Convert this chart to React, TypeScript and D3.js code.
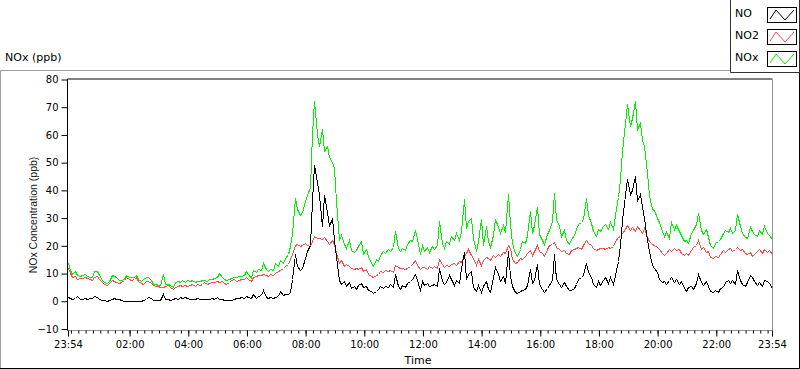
import React, { useEffect, useRef } from 'react';
import * as d3 from 'd3';

// 5-minute samples starting at 23:54, 289 points over 24 h
const startTime = '23:54';
const stepMinutes = 5;

const noValues = [
  1.4, 1.0, 0.8, 0.9, 1.6, 0.7, 0.8, 1.0, 0.6, 0.9, 1.1, 1.8, 1.2, 0.8, 0.3, 0.2, 0.1, 0.2, 0.6, 1.1,
  0.8, 0.5, 0.2, 0.1, 0.1, 0.1, 0.1, 0.1, 0.1, 0.1, 0.1, 0.2, 0.5, 1.4, 1.0, 0.4, 0.3, 0.2, 0.3, 2.4,
  0.5, 0.7, 0.4, 0.6, 1.0, 0.8, 1.2, 0.9, 1.3, 1.0,
  0.8, 0.7, 0.5, 0.9, 0.6, 0.7, 0.5, 0.8, 0.6, 0.9, 0.7, 1.2, 0.8, 0.5, 0.3, 0.4, 0.3, 0.2, 0.6, 1.0,
  1.1, 1.2, 1.0, 1.6, 1.3, 1.1, 2.6, 1.0, 1.6, 2.2, 4.0, 1.3, 1.1, 1.4, 1.0, 1.5, 1.8, 3.4, 2.0, 2.4,
  2.6, 3.0, 8.0, 17.0, 12.5, 11.0, 12.0, 15.5,
  18.0, 20.0, 36.0, 49.0, 43, 38, 27, 38, 32, 27, 30, 22, 16, 7.4, 6.2, 7.0, 5.4, 6.6, 4.6, 5.2,
  4.2, 5.6, 6.4, 4.8, 5.2, 4.0, 3.4, 2.8, 3.6, 4.2, 5.2, 4.6, 5.4, 5.0, 6.0, 4.8, 9.6, 5.2, 4.4, 5.8,
  4.8, 6.4, 7.2, 7.8, 9.8, 7.6, 3.8, 7.0,
  5.8, 6.4, 5.2, 5.6, 6.0, 5.4, 12.0, 7.2, 6.2, 6.8, 9.4, 8.0, 5.8, 7.4, 6.4, 11.8, 17.6, 7.8, 9.6, 10.6,
  5.0, 3.6, 5.6, 3.0, 5.2, 7.0, 4.4, 3.0, 8.4, 12.2, 9.6, 7.0, 8.8, 6.4, 18.0, 9.0, 5.4, 3.2, 2.8, 3.4,
  4.0, 4.4, 5.8, 11.4, 6.4, 7.6, 13.2, 6.0,
  4.4, 3.0, 4.6, 5.6, 7.4, 17.0, 7.8, 6.2, 5.0, 6.8, 5.2, 4.0, 3.8, 4.6, 6.0, 7.8, 8.4, 9.4, 13.6, 10.4,
  8.4, 6.0, 4.8, 7.0, 5.6, 7.6, 8.4, 6.4, 8.6, 6.0, 9.4, 14.2, 20.0, 29.0, 38.0, 44.0, 38.6, 40.0, 45.0, 36.0,
  38.4, 34.0, 30.0, 22.0, 18.0, 13.0, 12.0, 10.4, 8.0,
  6.6, 7.2, 6.0, 7.6, 8.4, 6.8, 7.8, 6.2, 7.0, 4.6, 3.6, 4.8, 5.2, 4.2, 6.4, 9.6, 6.8, 5.6, 7.0, 5.4,
  3.4, 3.0, 3.8, 3.2, 4.6, 5.0, 6.8, 7.6, 6.4, 7.4, 6.0, 11.2, 7.4, 6.2, 5.4, 6.8, 9.4, 8.6, 7.0, 5.8,
  6.6, 5.4, 7.6, 7.0, 6.4, 4.6,
];

const no2Values = [
  12, 10, 8.6, 8.8, 7.8, 8.2, 8.3, 8.6, 8.2, 7.8, 7.6, 8.4, 9.0, 8.0, 6.6, 6.0, 5.8, 6.4, 7.6, 7.2,
  6.6, 6.4, 6.8, 7.4, 8.4, 7.8, 7.6, 7.8, 8.4, 7.0, 6.4, 6.2, 7.0, 7.2, 6.4, 5.6, 5.4, 5.2, 5.0, 5.0,
  5.2, 5.6, 5.0, 4.4, 4.8, 5.4, 5.8, 5.2, 5.6, 5.2,
  5.6, 6.0, 5.4, 6.0, 5.8, 6.2, 6.6, 6.2, 6.4, 6.8, 6.6, 7.2, 6.8, 7.0, 6.4, 6.2, 6.8, 7.4, 7.8, 7.2,
  7.6, 8.0, 7.8, 8.4, 8.0, 7.0, 8.6, 9.0, 9.4, 9.2, 9.8, 9.2, 9.0, 9.8, 9.4, 10.2, 10.6, 11.2, 12.0, 12.6,
  13.4, 15.0, 17.0, 20.0, 20.4, 19.6, 20.2, 21.0,
  20.2, 19.8, 21.6, 23.4, 22.6, 22.8, 22.2, 23.0, 21.6, 20.4, 21.8, 20.4, 17.4, 13.8, 14.6, 12.4, 13.2, 12.6, 12.0, 11.6,
  12.0, 11.4, 12.2, 10.8, 11.6, 9.8, 9.0, 8.6, 9.2, 9.6, 10.8, 10.4, 11.0, 10.6, 11.0, 10.4, 12.8, 12.2, 11.8, 12.0,
  11.6, 11.8, 12.4, 13.4, 14.8, 13.0, 11.4, 12.2,
  12.2, 11.4, 12.6, 11.8, 12.4, 12.0, 15.0, 13.2, 12.2, 12.8, 12.6, 13.4, 13.8, 13.0, 14.4, 14.0, 16.0, 17.2, 18.6, 16.4,
  15.6, 13.0, 15.2, 12.8, 14.6, 15.8, 15.6, 14.8, 16.6, 15.8, 17.0, 16.2, 17.6, 17.4, 20.0, 19.2, 15.0, 13.6, 14.0, 15.6,
  15.0, 16.2, 17.2, 18.2, 16.6, 17.8, 20.0, 17.8,
  17.4, 16.0, 18.6, 20.2, 20.6, 21.2, 19.4, 18.6, 17.8, 18.4, 17.4, 17.0, 18.2, 18.8, 19.2, 19.4, 18.8, 20.2, 21.8, 20.8,
  20.0, 19.2, 18.2, 18.8, 19.2, 19.0, 18.6, 19.4, 19.0, 19.6, 21.4, 23.0, 23.4, 24.6, 26.0, 27.2, 25.4, 26.6, 25.0, 26.8,
  25.6, 24.4, 26.2, 23.0, 21.4, 20.6, 20.2, 19.4, 18.6,
  17.4, 16.6, 17.2, 18.6, 17.8, 19.0, 18.2, 18.8, 17.2, 16.6, 17.4, 16.4, 18.2, 19.4, 20.2, 21.8, 18.6, 19.4, 17.6, 18.0,
  15.8, 15.4, 16.2, 15.8, 16.8, 18.4, 17.6, 18.8, 19.0, 17.8, 18.6, 19.4, 18.2, 18.8, 17.4, 16.8, 17.6, 16.2, 17.0, 17.8,
  18.6, 17.4, 18.8, 17.6, 18.4, 17.0,
];

const noxValues = [
  13.6, 11, 9.6, 10.6, 9.2, 9.0, 9.4, 9.8, 9.0, 8.6, 8.6, 10.6, 10.8, 9.4, 7.6, 6.6, 6.4, 7.2, 9.2, 9.0,
  8.6, 7.4, 7.6, 8.0, 9.2, 8.6, 8.4, 8.6, 9.2, 7.8, 7.2, 8.0, 8.4, 8.6, 7.4, 6.2, 6.0, 5.8, 5.6, 9.6,
  6.0, 6.2, 5.6, 4.8, 6.6, 7.0, 6.8, 7.4, 6.6, 7.6,
  7.0, 7.6, 6.8, 7.2, 7.0, 7.6, 7.4, 7.2, 8.0, 7.8, 8.2, 8.4, 10.0, 8.6, 7.8, 7.4, 7.8, 8.2, 8.6, 8.6,
  9.0, 8.8, 9.4, 10.8, 9.6, 8.2, 11.2, 10.4, 11.4, 11.0, 13.8, 11.4, 10.8, 11.4, 11.0, 13.6, 12.4, 14.8, 13.6, 15.4,
  16.8, 19.6, 24, 37, 33, 31, 32, 36,
  38, 41, 60, 72, 60, 56, 62, 54, 56, 52, 50, 48, 36, 22, 23.6, 20.4, 19.2, 22.0, 18.4, 17.6,
  18.2, 19.6, 21.4, 17.0, 18.6, 16.2, 13.8, 12.6, 15.0, 14.4, 16.6, 18.0, 17.4, 18.8, 17.8, 19.4, 25.0, 19.0, 18.0, 19.2,
  18.4, 20.6, 22.0, 21.4, 25.6, 22.4, 16.8, 20.0,
  18.0, 19.4, 17.6, 19.8, 18.6, 20.0, 28.6, 21.0, 19.2, 21.4, 20.6, 23.4, 22.0, 24.6, 21.8, 25.0, 36.6, 26.4, 28.8, 30.0,
  22.8, 18.0, 21.4, 29.4, 20.0, 27.0, 21.6, 19.4, 23.6, 29.4, 26.6, 24.6, 27.2, 24.8, 38.4, 27.6, 21.0, 17.4, 16.2, 18.8,
  21.6, 20.8, 23.6, 32.4, 24.6, 27.4, 33.8, 24.0,
  22.0, 20.6, 24.0, 25.4, 28.6, 39.0, 29.4, 26.8, 23.4, 25.6, 22.0, 20.6, 22.4, 23.6, 25.8, 27.6, 28.4, 29.4, 37.0, 31.0,
  28.0, 25.2, 23.4, 26.0, 25.0, 27.0, 27.8, 26.0, 28.4, 25.8, 31.0, 37.6, 44.0, 54.0, 64.0, 71.0, 63.0, 66.0, 72.0, 62.0,
  64.0, 58.0, 56.0, 46.0, 38.0, 33.0, 32.6, 30.0, 28.4,
  25.0, 23.4, 24.8, 22.6, 28.4, 26.0, 27.4, 25.2, 23.6, 21.4, 22.0, 21.0, 24.6, 25.4, 27.8, 31.6, 25.4, 24.2, 26.0, 23.0,
  20.0, 19.0, 20.8, 21.6, 22.4, 24.4, 25.6, 24.8, 26.2, 24.6, 25.4, 31.2, 27.0, 24.6, 23.0, 22.6, 26.6, 25.2, 24.0, 23.2,
  25.6, 24.0, 27.0, 24.6, 23.8, 22.2,
];

const seriesNames = ['NO', 'NO2', 'NOx'];
const seriesColors = ['#000000', '#ff4a4a', '#00f000'];
const xTickLabels = ['23:54', '02:00', '04:00', '06:00', '08:00', '10:00', '12:00',
  '14:00', '16:00', '18:00', '20:00', '22:00', '23:54'];
const yTicks = [80, 70, 60, 50, 40, 30, 20, 10, 0, -10];

const W = 800;
const H = 369;
const font = 'DejaVu Sans, sans-serif';

const toDate = (label: string, nextDay: boolean) => {
  const [h, m] = label.split(':').map(Number);
  return new Date(Date.UTC(2000, 0, nextDay ? 2 : 1, h, m));
};

// snap to pixel centres so 1px lines stay sharp
const px = (v: number) => Math.round(v - 0.5) + 0.5;

export default function App() {
  const svgRef = useRef<SVGSVGElement>(null);

  useEffect(() => {
    if (!svgRef.current) return;
    const svg = d3.select(svgRef.current);
    svg.selectAll('*').remove();

    const margin = { top: 79.5, right: 28, bottom: 40, left: 68 };
    const plotBottom = 329;

    const start = toDate(startTime, false);
    const end = d3.utcMinute.offset(start, stepMinutes * (noValues.length - 1));

    const x = d3.scaleUtc().domain([start, end]).range([margin.left, W - margin.right]);
    const y = d3.scaleLinear().domain([-10, 80]).range([plotBottom, margin.top]);

    // outer panel frame
    svg.append('rect').attr('width', W).attr('height', H).attr('fill', '#fff');
    svg.append('path').attr('d', `M0.5,${H}V70.5H730`).attr('fill', 'none').attr('stroke', '#a0a0a0');
    svg.append('path').attr('d', `M0,${H - 0.5}H${W - 0.5}V72`).attr('fill', 'none').attr('stroke', '#000');

    // plot area
    const clipId = 'plot-clip';
    svg.append('clipPath').attr('id', clipId)
      .append('rect')
      .attr('x', margin.left).attr('y', margin.top)
      .attr('width', W - margin.right - margin.left)
      .attr('height', plotBottom + 2 - margin.top);

    const times = noValues.map((_, i) => d3.utcMinute.offset(start, i * stepMinutes));
    const allSeries = [noValues, no2Values, noxValues];

    const line = d3.line<number>()
      .x((_, i) => px(x(times[i])))
      .y(d => px(y(d)));

    const plotG = svg.append('g').attr('clip-path', `url(#${clipId})`);
    [2, 1, 0].forEach(k => {
      plotG.append('path')
        .datum(allSeries[k])
        .attr('fill', 'none')
        .attr('stroke', seriesColors[k])
        .attr('stroke-width', 1)
        .attr('shape-rendering', 'crispEdges')
        .attr('d', line);
    });

    // plot frame
    const x0 = margin.left - 0.5;
    const x1 = W - margin.right + 0.5;
    svg.append('path').attr('d', `M${x0},${plotBottom + 2}V${margin.top - 0.5}H${x1}`)
      .attr('fill', 'none').attr('stroke', '#000');
    svg.append('path').attr('d', `M${x1},${margin.top}V${plotBottom + 1.5}H${x0}`)
      .attr('fill', 'none').attr('stroke', '#909090');

    // y axis
    svg.append('g').attr('transform', `translate(${x0},0)`)
      .call(d3.axisLeft(y).tickValues(yTicks).tickSize(6).tickPadding(3).tickFormat(d3.format('d')))
      .call(g => g.select('.domain').remove())
      .call(g => g.selectAll('.tick line').attr('stroke', '#000'))
      .call(g => g.selectAll('.tick text')
        .attr('fill', '#000').attr('font-size', 10).attr('font-family', font));

    // x axis: major ticks at labels, minor every 15 min
    const majorDates = xTickLabels.map((l, i) => toDate(l, i > 0));
    const minorDates = d3.utcMinute.every(15)!.range(start, d3.utcMinute.offset(end, 1));
    const axisY = plotBottom + 1.5;

    svg.append('g').attr('transform', `translate(0,${axisY})`)
      .call(d3.axisBottom(x).tickValues(minorDates).tickSize(3).tickFormat(() => ''))
      .call(g => g.select('.domain').remove())
      .call(g => g.selectAll('.tick line').attr('stroke', '#000'));

    svg.append('g').attr('transform', `translate(0,${axisY})`)
      .call(d3.axisBottom(x).tickValues(majorDates).tickSize(6).tickPadding(4)
        .tickFormat((_, i) => xTickLabels[i]))
      .call(g => g.select('.domain').remove())
      .call(g => g.selectAll('.tick line').attr('stroke', '#000'))
      .call(g => g.selectAll('.tick text')
        .attr('fill', '#000').attr('font-size', 10).attr('font-family', font));

    // axis titles
    svg.append('text')
      .attr('x', (margin.left + W - margin.right) / 2 - 2).attr('y', 364)
      .attr('text-anchor', 'middle').attr('font-size', 11).attr('font-family', font)
      .attr('fill', '#000').text('Time');

    svg.append('text')
      .attr('transform', `translate(37,215) rotate(-90)`)
      .attr('text-anchor', 'middle').attr('font-size', 10.5).attr('font-family', 'Liberation Sans, Arial, sans-serif')
      .attr('fill', '#1a1a1a').text('NOx Concentration (ppb)');

    svg.append('text')
      .attr('x', 5).attr('y', 61)
      .attr('font-size', 11).attr('font-family', font)
      .attr('fill', '#000').text('NOx (ppb)');

    // legend
    const legend = svg.append('g');
    legend.append('path').attr('d', 'M730.5,0V72.5H799.5V0')
      .attr('fill', '#fff').attr('stroke', '#333');
    seriesNames.forEach((name, k) => {
      const top = 7 + k * 22;
      legend.append('text')
        .attr('x', 735).attr('y', top + 10)
        .attr('font-size', 11).attr('font-family', font).attr('fill', '#000')
        .text(name);
      legend.append('rect')
        .attr('x', 767.5).attr('y', top + 0.5).attr('width', 29).attr('height', 15)
        .attr('fill', '#fff').attr('stroke', '#000');
      legend.append('path')
        .attr('d', `M770,${top + 12}L776,${top + 3}L785,${top + 13}L794,${top + 3}`)
        .attr('fill', 'none').attr('stroke', seriesColors[k]);
    });
  }, []);

  return (
    <div style={{ position: 'absolute', left: 0, top: 0 }}>
      <svg ref={svgRef} width={W} height={H} style={{ display: 'block' }} />
    </div>
  );
}
